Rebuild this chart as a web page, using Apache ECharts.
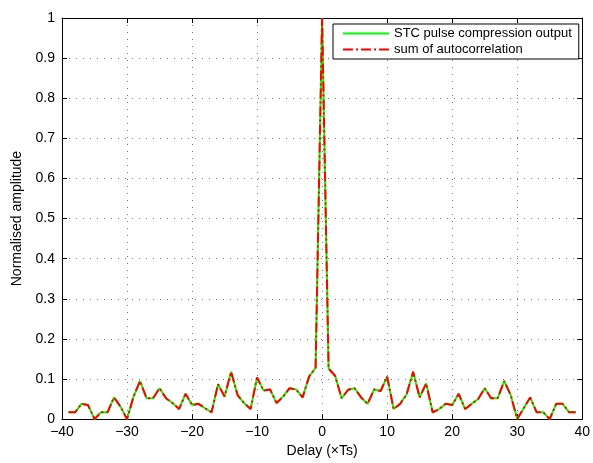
<!DOCTYPE html>
<html>
<head>
<meta charset="utf-8">
<script src="https://cdn.jsdelivr.net/npm/echarts@6/dist/echarts.min.js"></script>
<style>
  html, body { margin: 0; padding: 0; background: #fff; }
  #chart { width: 593px; height: 463px; }
</style>
</head>
<body>
<div id="chart"></div>
<script>
// delay index (x Ts)
const delays = [-39, -38, -37, -36, -35, -34, -33, -32, -31, -30,
  -29, -28, -27, -26, -25, -24, -23, -22, -21, -20,
  -19, -18, -17, -16, -15, -14, -13, -12, -11, -10,
  -9, -8, -7, -6, -5, -4, -3, -2, -1, 0,
  1, 2, 3, 4, 5, 6, 7, 8, 9, 10,
  11, 12, 13, 14, 15, 16, 17, 18, 19, 20,
  21, 22, 23, 24, 25, 26, 27, 28, 29, 30,
  31, 32, 33, 34, 35, 36, 37, 38, 39]

// STC pulse compression output
const stcOutput = [0.017, 0.017, 0.038, 0.035, 0.000, 0.017, 0.017, 0.054, 0.031, 0.000,
  0.056, 0.095, 0.052, 0.052, 0.077, 0.052, 0.040, 0.025, 0.063, 0.035,
  0.038, 0.027, 0.017, 0.087, 0.056, 0.118, 0.060, 0.040, 0.025, 0.104,
  0.071, 0.074, 0.040, 0.056, 0.077, 0.074, 0.054, 0.106, 0.128, 1.000,
  0.126, 0.108, 0.052, 0.073, 0.077, 0.054, 0.038, 0.074, 0.070, 0.106,
  0.025, 0.038, 0.062, 0.118, 0.054, 0.089, 0.017, 0.025, 0.038, 0.035,
  0.063, 0.025, 0.038, 0.050, 0.077, 0.052, 0.052, 0.095, 0.060, 0.000,
  0.027, 0.054, 0.017, 0.017, 0.000, 0.038, 0.038, 0.017, 0.017]

// sum of autocorrelation
const autoSum = [0.017, 0.017, 0.038, 0.035, 0.000, 0.017, 0.017, 0.054, 0.031, 0.000,
  0.056, 0.095, 0.052, 0.052, 0.077, 0.052, 0.040, 0.025, 0.063, 0.035,
  0.038, 0.027, 0.017, 0.087, 0.056, 0.118, 0.060, 0.040, 0.025, 0.104,
  0.071, 0.074, 0.040, 0.056, 0.077, 0.074, 0.054, 0.106, 0.128, 1.000,
  0.126, 0.108, 0.052, 0.073, 0.077, 0.054, 0.038, 0.074, 0.070, 0.106,
  0.025, 0.038, 0.062, 0.118, 0.054, 0.089, 0.017, 0.025, 0.038, 0.035,
  0.063, 0.025, 0.038, 0.050, 0.077, 0.052, 0.052, 0.095, 0.060, 0.000,
  0.027, 0.054, 0.017, 0.017, 0.000, 0.038, 0.038, 0.017, 0.017]

const seriesNames = ['STC pulse compression output', 'sum of autocorrelation']

const font = '"Liberation Sans", Arial, Helvetica, sans-serif'
const chart = echarts.init(document.getElementById('chart'))

// 刻度标签使用真正的减号
const minusFmt = v => String(v).replace('-', '\u2212')

// 上/右两条只画刻度的轴, 组成 matlab 那种封闭框
const boxAxis = {
  axisLine: { show: true, onZero: false, lineStyle: { color: '#000', width: 1 } },
  axisTick: { show: true, inside: true, length: 5, lineStyle: { color: '#000' } },
  axisLabel: { show: false },
  splitLine: { show: false }
}

const gridDots = { show: true, lineStyle: { color: '#777', type: [1, 6], width: 1 } }

const option = {
  backgroundColor: '#fff',
  animation: false,
  textStyle: { fontFamily: font },
  grid: { left: 62, right: 10, top: 18, bottom: 41 },
  legend: {
    orient: 'vertical',
    left: 333,
    top: 24,
    padding: [3, 7, 3, 9],
    itemWidth: 46,
    itemHeight: 14,
    itemGap: 3,
    backgroundColor: '#fff',
    borderColor: '#000',
    borderWidth: 1,
    borderRadius: 0,
    // 不要图例里的圆点, 只留线
    itemStyle: { opacity: 0 },
    textStyle: { fontSize: 13, color: '#000', fontFamily: font },
    data: seriesNames
  },
  xAxis: [
    {
      type: 'value',
      min: -40,
      max: 40,
      interval: 10,
      name: 'Delay (\u00d7Ts)',
      nameLocation: 'middle',
      nameGap: 24,
      nameTextStyle: { fontSize: 14, color: '#000', fontFamily: font },
      axisLine: { show: true, onZero: false, lineStyle: { color: '#000', width: 1 } },
      axisTick: { show: true, inside: true, length: 5, lineStyle: { color: '#000' } },
      axisLabel: { fontSize: 14, color: '#000', margin: 6, formatter: minusFmt },
      splitLine: gridDots
    },
    Object.assign({ type: 'value', min: -40, max: 40, interval: 10, position: 'top' }, boxAxis)
  ],
  yAxis: [
    {
      type: 'value',
      min: 0,
      max: 1,
      interval: 0.1,
      name: 'Normalised amplitude',
      nameLocation: 'middle',
      nameGap: 33,
      nameTextStyle: { fontSize: 14, color: '#000', fontFamily: font },
      axisLine: { show: true, onZero: false, lineStyle: { color: '#000', width: 1 } },
      axisTick: { show: true, inside: true, length: 5, lineStyle: { color: '#000' } },
      axisLabel: { fontSize: 14, color: '#000', margin: 7, formatter: v => +v.toFixed(1) + '' },
      splitLine: gridDots
    },
    Object.assign({ type: 'value', min: 0, max: 1, interval: 0.1, position: 'right' }, boxAxis)
  ],
  series: [
    {
      name: seriesNames[0],
      type: 'line',
      symbol: 'none',
      data: delays.map((d, i) => [d, stcOutput[i]]),
      itemStyle: { color: '#00ff00' },
      lineStyle: { color: '#00ff00', width: 2 },
      z: 2
    },
    {
      name: seriesNames[1],
      type: 'line',
      symbol: 'none',
      data: delays.map((d, i) => [d, autoSum[i]]),
      itemStyle: { color: '#ff0000' },
      lineStyle: { color: '#ff0000', width: 2, type: [10, 3, 2, 3] },
      z: 3
    }
  ]
}

chart.setOption(option)
</script>
</body>
</html>
